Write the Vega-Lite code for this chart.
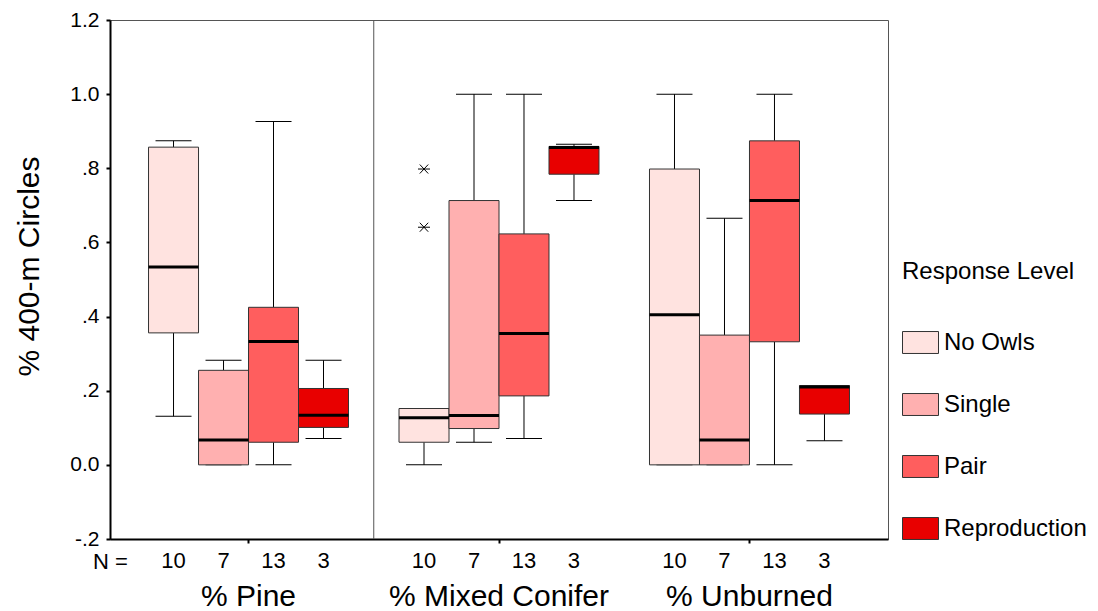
{
  "$schema": "https://vega.github.io/schema/vega-lite/v6.json",
  "width": 778,
  "height": 519,
  "padding": {"left": 14, "top": 9, "right": 0, "bottom": 0},
  "config": {
    "font": "Liberation Sans",
    "view": {"stroke": "#555", "strokeWidth": 1}
  },
  "datasets": {
    "boxes": [
      {"group": "% Pine", "level": "No Owls", "N": "10", "min": 0.131, "q1": 0.356, "median": 0.534, "q3": 0.857, "max": 0.874},
      {"group": "% Pine", "level": "Single", "N": "7", "min": 0.0, "q1": 0.0, "median": 0.067, "q3": 0.255, "max": 0.282},
      {"group": "% Pine", "level": "Pair", "N": "13", "min": 0.0, "q1": 0.061, "median": 0.333, "q3": 0.425, "max": 0.926},
      {"group": "% Pine", "level": "Reproduction", "N": "3", "min": 0.071, "q1": 0.101, "median": 0.134, "q3": 0.206, "max": 0.282},
      {"group": "% Mixed Conifer", "level": "No Owls", "N": "10", "min": 0.0, "q1": 0.061, "median": 0.127, "q3": 0.152, "max": 0.152},
      {"group": "% Mixed Conifer", "level": "Single", "N": "7", "min": 0.061, "q1": 0.098, "median": 0.133, "q3": 0.713, "max": 1.0},
      {"group": "% Mixed Conifer", "level": "Pair", "N": "13", "min": 0.071, "q1": 0.186, "median": 0.354, "q3": 0.623, "max": 1.0},
      {"group": "% Mixed Conifer", "level": "Reproduction", "N": "3", "min": 0.713, "q1": 0.784, "median": 0.856, "q3": 0.859, "max": 0.865},
      {"group": "% Unburned", "level": "No Owls", "N": "10", "min": 0.0, "q1": 0.0, "median": 0.405, "q3": 0.798, "max": 1.0},
      {"group": "% Unburned", "level": "Single", "N": "7", "min": 0.0, "q1": 0.0, "median": 0.067, "q3": 0.35, "max": 0.665},
      {"group": "% Unburned", "level": "Pair", "N": "13", "min": 0.0, "q1": 0.332, "median": 0.713, "q3": 0.874, "max": 1.0},
      {"group": "% Unburned", "level": "Reproduction", "N": "3", "min": 0.065, "q1": 0.137, "median": 0.21, "q3": 0.214, "max": 0.214}
    ],
    "outliers": [
      {"group": "% Mixed Conifer", "level": "No Owls", "value": 0.798},
      {"group": "% Mixed Conifer", "level": "No Owls", "value": 0.641}
    ]
  },
  "encoding": {
    "x": {
      "field": "group", "type": "nominal",
      "sort": ["% Pine", "% Mixed Conifer", "% Unburned"],
      "scale": {"paddingInner": 0, "paddingOuter": 0.053},
      "title": "N =",
      "axis": {
        "labelFontSize": 30, "labelColor": "black", "labelPadding": 38, "labelAngle": 0,
        "labelLimit": 0, "labelOverlap": false,
        "tickSize": 4, "tickWidth": 2, "tickColor": "black",
        "domainColor": "black", "domainWidth": 2,
        "titleFontSize": 22, "titleFontWeight": "normal", "titleColor": "black",
        "titleX": 0, "titleY": 29, "titleAlign": "center", "titleBaseline": "alphabetic"
      }
    },
    "xOffset": {
      "field": "level", "type": "nominal",
      "sort": ["No Owls", "Single", "Pair", "Reproduction"],
      "scale": {"paddingInner": 0, "paddingOuter": 0.505}
    },
    "y": {
      "type": "quantitative",
      "scale": {"domain": [-0.2, 1.2], "nice": false, "zero": false},
      "title": "% 400-m Circles",
      "axis": {
        "values": [-0.2, 0, 0.2, 0.4, 0.6, 0.8, 1, 1.2],
        "labelExpr": "datum.value < -0.1 ? '-.2' : datum.value < 0.1 ? '0.0' : datum.value < 0.3 ? '.2' : datum.value < 0.5 ? '.4' : datum.value < 0.7 ? '.6' : datum.value < 0.9 ? '.8' : datum.value < 1.1 ? '1.0' : '1.2'",
        "grid": false,
        "domainColor": "black", "domainWidth": 2,
        "tickColor": "black", "tickWidth": 2, "tickSize": 4,
        "labelFontSize": 21, "labelColor": "black", "labelPadding": 7,
        "titleFontSize": 30, "titleFontWeight": "normal", "titleColor": "black",
        "titlePadding": 25, "titleY": 246
      }
    }
  },
  "layer": [
    {
      "data": {"name": "boxes"},
      "mark": {"type": "rule", "color": "black", "strokeWidth": 1},
      "encoding": {"y": {"field": "min", "type": "quantitative"}, "y2": {"field": "q1"}}
    },
    {
      "data": {"name": "boxes"},
      "mark": {"type": "rule", "color": "black", "strokeWidth": 1},
      "encoding": {"y": {"field": "q3", "type": "quantitative"}, "y2": {"field": "max"}}
    },
    {
      "data": {"name": "boxes"},
      "mark": {"type": "tick", "color": "black", "size": 36, "thickness": 1, "opacity": 1},
      "encoding": {"y": {"field": "min", "type": "quantitative"}}
    },
    {
      "data": {"name": "boxes"},
      "mark": {"type": "tick", "color": "black", "size": 36, "thickness": 1, "opacity": 1},
      "encoding": {"y": {"field": "max", "type": "quantitative"}}
    },
    {
      "data": {"name": "boxes"},
      "mark": {"type": "bar", "stroke": "#333", "strokeWidth": 1, "opacity": 1},
      "encoding": {
        "y": {"field": "q1", "type": "quantitative"},
        "y2": {"field": "q3"},
        "color": {
          "field": "level", "type": "nominal",
          "scale": {"domain": ["No Owls", "Single", "Pair", "Reproduction"], "range": ["#FFE3E0", "#FFB0B0", "#FF5E5E", "#E80000"]},
          "legend": {
            "title": "Response Level", "orient": "none", "legendX": 792, "legendY": 240,
            "titleFontSize": 24, "titleFontWeight": "normal", "titleColor": "black",
            "labelFontSize": 24, "labelColor": "black",
            "symbolType": "M-1,-0.61H1V0.61H-1Z", "symbolSize": 1296,
            "symbolStrokeColor": "#333", "symbolStrokeWidth": 1, "symbolOpacity": 1,
            "rowPadding": 30, "titlePadding": 40, "labelOffset": 5, "padding": 0
          }
        }
      }
    },
    {
      "data": {"name": "boxes"},
      "mark": {"type": "tick", "color": "black", "size": 50, "thickness": 3, "opacity": 1},
      "encoding": {"y": {"field": "median", "type": "quantitative"}}
    },
    {
      "data": {"name": "outliers"},
      "mark": {"type": "point", "shape": "M-1,0H1M-0.7,-0.75L0.7,0.75M-0.7,0.75L0.7,-0.75", "filled": false, "stroke": "black", "strokeWidth": 1, "size": 144, "opacity": 1},
      "encoding": {"y": {"field": "value", "type": "quantitative"}}
    },
    {
      "data": {"name": "boxes"},
      "mark": {"type": "text", "fontSize": 22, "baseline": "alphabetic", "dy": 29, "color": "black"},
      "encoding": {"y": {"datum": -0.2}, "text": {"field": "N"}}
    },
    {
      "data": {"values": [{}]},
      "mark": {"type": "rule", "color": "#555", "strokeWidth": 1},
      "encoding": {"x": {"datum": "% Mixed Conifer", "type": "nominal", "bandPosition": 0}, "xOffset": null, "y": null}
    }
  ]
}
